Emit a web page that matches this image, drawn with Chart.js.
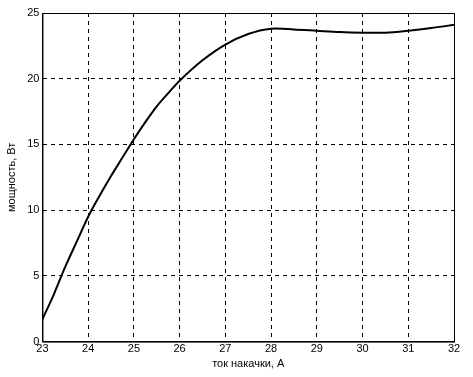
<!DOCTYPE html>
<html>
<head>
<meta charset="utf-8">
<script src="https://cdn.jsdelivr.net/npm/chart.js@4"></script>
<style>
  html, body { margin: 0; padding: 0; background: #fff; }
  #wrap { width: 473px; height: 377px; }
</style>
</head>
<body>
<div id="wrap"><canvas id="chart" width="473" height="377"></canvas></div>
<script>
// ток накачки, А
const current = [23, 23.25, 23.5, 23.75, 24, 24.25, 24.5, 24.75, 25, 25.25, 25.5, 25.75, 26,
                 26.5, 27, 27.5, 28, 28.5, 29, 29.5, 30, 30.5, 31, 31.5, 32];
// мощность, Вт
const power = [1.7, 3.6, 5.7, 7.6, 9.5, 11.1, 12.6, 14.0, 15.4, 16.7, 17.9, 18.9, 19.85,
               21.4, 22.6, 23.4, 23.8, 23.75, 23.65, 23.55, 23.5, 23.5, 23.65, 23.85, 24.1];

const points = current.map((x, i) => ({ x: x, y: power[i] }));

// рамка вокруг области графика
const frame = {
    id: 'frame',
    afterDraw(chart) {
        const a = chart.chartArea;
        const ctx = chart.ctx;
        ctx.save();
        ctx.strokeStyle = '#000';
        ctx.lineWidth = 1;
        ctx.strokeRect(a.left + 0.5, a.top + 0.5, a.right - a.left, a.bottom - a.top);
        ctx.restore();
    }
};

Chart.defaults.font.family = "'Liberation Sans', Arial, sans-serif";
Chart.defaults.font.size = 11;
Chart.defaults.color = '#000';

new Chart(document.getElementById('chart').getContext('2d'), {
    type: 'line',
    data: {
        datasets: [{
            data: points,
            borderColor: '#000',
            borderWidth: 2,
            pointRadius: 0,
            tension: 0.3
        }]
    },
    options: {
        responsive: false,
        animation: false,
        layout: { padding: { top: 13, right: 19, left: 5, bottom: 6 } },
        plugins: { legend: { display: false }, tooltip: { enabled: false } },
        scales: {
            x: {
                type: 'linear',
                min: 23, max: 32,
                ticks: { stepSize: 1, padding: 1 },
                grid: { color: '#000', drawTicks: false },
                border: { color: '#000', dash: [4, 4] },
                title: { display: true, text: 'ток накачки, А', padding: { top: 1, bottom: 0 } }
            },
            y: {
                min: 0, max: 25,
                ticks: { stepSize: 5, padding: 3 },
                grid: { color: '#000', drawTicks: false },
                border: { color: '#000', dash: [4, 4] },
                title: { display: true, text: 'мощность, Вт', padding: { top: 0, bottom: 6 } }
            }
        }
    },
    plugins: [frame]
});
</script>
</body>
</html>
